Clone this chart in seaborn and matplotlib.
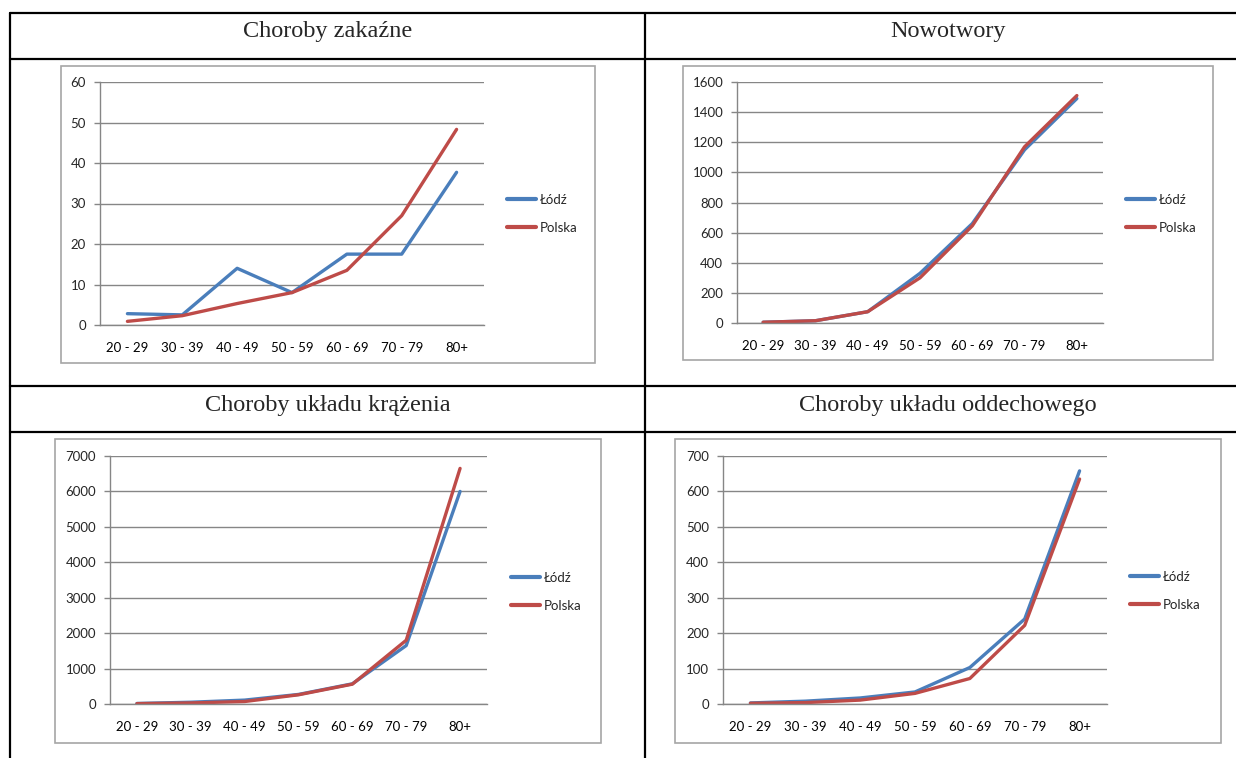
# Four Excel-style line charts laid out in a bordered table
import numpy as np
import pandas as pd
import seaborn as sns
import matplotlib.pyplot as plt
from matplotlib.lines import Line2D
from matplotlib.patches import Rectangle

age_groups = ['20 - 29', '30 - 39', '40 - 49', '50 - 59', '60 - 69', '70 - 79', '80+']
regions = ['Łódź', 'Polska']

zakazne_lodz = [2.8, 2.5, 14.0, 8.0, 17.5, 17.5, 37.7]
zakazne_polska = [0.9, 2.3, 5.3, 8.0, 13.5, 27.0, 48.3]

nowotwory_lodz = [5, 15, 75, 330, 660, 1150, 1490]
nowotwory_polska = [5, 15, 75, 300, 645, 1170, 1510]

krazenie_lodz = [15, 50, 110, 270, 570, 1650, 6000]
krazenie_polska = [10, 30, 70, 260, 560, 1800, 6650]

oddechowe_lodz = [3, 8, 17, 34, 103, 240, 658]
oddechowe_polska = [2, 4, 11, 30, 72, 222, 635]

titles = ['Choroby zakaźne', 'Nowotwory', 'Choroby układu krążenia', 'Choroby układu oddechowego']

W, H = 1236, 758
BLUE = '#4A7EBB'
RED = '#BE4B48'
GRID = '#868686'

sns.set_style('white')
plt.rcParams['font.family'] = ['Lato', 'DejaVu Sans']

fig = plt.figure(figsize=(W / 100, H / 100), dpi=100)


def rect(x0, y0, x1, y1):
    return [x0 / W, 1 - y1 / H, (x1 - x0) / W, (y1 - y0) / H]


def panel(lodz, polska, ymax, ystep, box, plot, leg):
    # grey chart frame
    bx0, by0, bx1, by1 = box
    fig.add_artist(Rectangle((bx0 / W, 1 - by1 / H), (bx1 - bx0) / W, (by1 - by0) / H,
                             transform=fig.transFigure, fill=False,
                             edgecolor='#A6A6A6', linewidth=1.2))
    ax = fig.add_axes(rect(*plot))
    df = pd.DataFrame({
        'age': age_groups * 2,
        'value': lodz + polska,
        'region': [regions[0]] * len(age_groups) + [regions[1]] * len(age_groups),
    })
    sns.lineplot(data=df, x='age', y='value', hue='region', sort=False,
                 palette=[BLUE, RED], linewidth=2.4, ax=ax, legend=False)
    ax.set_xlim(-0.5, len(age_groups) - 0.5)
    ax.set_ylim(0, ymax)
    ax.set_yticks(np.arange(0, ymax + 1, ystep))
    ax.set_xticks(range(len(age_groups)))
    ax.set_xticklabels(age_groups)
    ax.set_xticks(np.arange(-0.5, len(age_groups)), minor=True)
    ax.tick_params(axis='x', which='major', length=0, pad=12, labelsize=9.5, colors='black')
    ax.tick_params(axis='x', which='minor', length=4, width=1, color=GRID, direction='out')
    ax.tick_params(axis='y', length=4, width=1, color=GRID, direction='out', pad=6,
                   labelsize=9.5, left=True)
    ax.grid(axis='y', color=GRID, linewidth=1)
    ax.set_axisbelow(True)
    for side in ['top', 'right']:
        ax.spines[side].set_visible(False)
    for side in ['left', 'bottom']:
        ax.spines[side].set_color(GRID)
        ax.spines[side].set_linewidth(1)
    ax.set_xlabel('')
    ax.set_ylabel('')
    handles = [Line2D([], [], color=BLUE, linewidth=3), Line2D([], [], color=RED, linewidth=3)]
    fig.legend(handles, regions, loc='center left',
               bbox_to_anchor=(leg[0] / W, 1 - leg[1] / H), frameon=False,
               fontsize=9.5, handlelength=2.2, handletextpad=0.3, labelspacing=1.2,
               borderpad=0, borderaxespad=0)
    return ax


panel(zakazne_lodz, zakazne_polska, 60, 10,
      (61, 66, 595, 363), (100, 82, 484, 325), (507, 214))
panel(nowotwory_lodz, nowotwory_polska, 1600, 200,
      (683, 66, 1213, 360), (737, 82, 1103, 323), (1126, 214))
panel(krazenie_lodz, krazenie_polska, 7000, 1000,
      (55, 439, 601, 743), (110, 456, 487, 704), (511, 592))
panel(oddechowe_lodz, oddechowe_polska, 700, 100,
      (675, 439, 1221, 743), (723, 456, 1107, 704), (1130, 591))

# table borders
for y in [13, 59, 386, 432]:
    fig.add_artist(Line2D([10 / W, 1], [1 - y / H, 1 - y / H], transform=fig.transFigure,
                          color='black', linewidth=1.6))
for x in [10, 645]:
    fig.add_artist(Line2D([x / W, x / W], [1 - 13 / H, 0], transform=fig.transFigure,
                          color='black', linewidth=1.6))

# cell titles
title_pos = [(328, 31), (948, 31), (328, 405), (948, 405)]
for t, (x, y) in zip(titles, title_pos):
    fig.text(x / W, 1 - y / H, t, ha='center', va='center',
             fontsize=17.5, family=['Liberation Serif', 'DejaVu Serif'])

fig.savefig('out.png', dpi=100)
